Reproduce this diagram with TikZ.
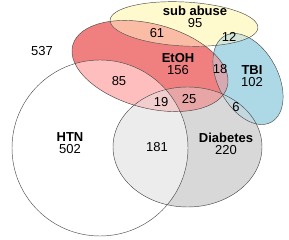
\documentclass[tikz,border=0pt]{standalone}
\usepackage{fontspec}
\setmainfont{Liberation Sans}

\definecolor{diabcol}{RGB}{216,216,216}
\definecolor{etohcol}{RGB}{240,128,128}
\definecolor{subcol}{RGB}{255,250,205}
\definecolor{tbicol}{RGB}{173,216,230}
\definecolor{etohsubcol}{RGB}{250,188,165}
\definecolor{etohhtncol}{RGB}{255,190,190}
\definecolor{etohdiabcol}{RGB}{232,165,165}
\definecolor{etohhtndiabcol}{RGB}{242,205,205}
\definecolor{htndiabcol}{RGB}{236,236,236}
\definecolor{etohtbicol}{RGB}{214,168,178}
\definecolor{subtbicol}{RGB}{212,230,215}
\definecolor{tbidiabcol}{RGB}{195,215,222}

% the five sets
\newcommand{\htnpath}{(100,92) circle [radius=88]}
\newcommand{\diabpath}{(187.5,93) ellipse [x radius=74.5, y radius=60]}
\newcommand{\etohpath}{[rotate around={-15:(150,174)}] (150,174) ellipse [x radius=80, y radius=42]}
\newcommand{\subpath}{[rotate around={-3:(184,216)}] (184,216) ellipse [x radius=74, y radius=22]}
\newcommand{\tbipath}{[rotate around={-62:(248,161)}] (248,161) ellipse [x radius=49, y radius=30]}

\begin{document}
\begin{tikzpicture}[x=1pt, y=1pt, font=\fontsize{13}{11.5}\selectfont,
        setline/.style={draw=black!70, line width=0.45pt},
        setname/.style={align=center}]
    \useasboundingbox (0,0) rectangle (289,240);
    % Plain fills of the sets.
        \fill[diabcol] \diabpath;
        \fill[etohcol] \etohpath;
        \fill[subcol] \subpath;
        \fill[tbicol] \tbipath;
    % Overlaps, clipped one set by another.
        \begin{scope}
            \clip \htnpath;
            \fill[htndiabcol] \diabpath;
        \end{scope}
        \begin{scope}
            \clip \etohpath;
            \fill[etohsubcol] \subpath;
        \end{scope}
        \begin{scope}
            \clip \etohpath;
            \fill[etohdiabcol] \diabpath;
        \end{scope}
        \begin{scope}
            \clip \etohpath;
            \fill[etohhtncol] \htnpath;
        \end{scope}
        \begin{scope}
            \clip \etohpath;
            \clip \htnpath;
            \fill[etohhtndiabcol] \diabpath;
        \end{scope}
        \begin{scope}
            \clip \tbipath;
            \fill[tbidiabcol] \diabpath;
        \end{scope}
        \begin{scope}
            \clip \tbipath;
            \fill[subtbicol] \subpath;
        \end{scope}
        \begin{scope}
            \clip \tbipath;
            \fill[etohtbicol] \etohpath;
        \end{scope}
    % Outlines.
        \draw[setline] \htnpath;
        \draw[setline] \diabpath;
        \draw[setline] \etohpath;
        \draw[setline] \subpath;
        \draw[setline] \tbipath;
    % Below nodes are the labels.
        \node (outside) at (42,189) {537};
        \node[setname] (sub) at (195,223) {\textbf{sub abuse}\\95};
        \node[setname] (etoh) at (178,176) {\textbf{EtOH}\\156};
        \node[setname] (tbi) at (252,164) {\textbf{TBI}\\102};
        \node[setname] (htn) at (70,97) {\textbf{HTN}\\502};
        \node[setname] (diab) at (226,96) {\textbf{Diabetes}\\220};
        \node (etohsub) at (157,207) {61};
        \node (subtbi) at (229,203) {12};
        \node (etohtbi) at (220,171) {18};
        \node (etohhtn) at (119,159) {85};
        \node (etohhtndiab) at (161,138) {19};
        \node (etohdiab) at (189,141) {25};
        \node (tbidiab) at (236,133) {6};
        \node (htndiab) at (157,93) {181};
\end{tikzpicture}
\end{document}
